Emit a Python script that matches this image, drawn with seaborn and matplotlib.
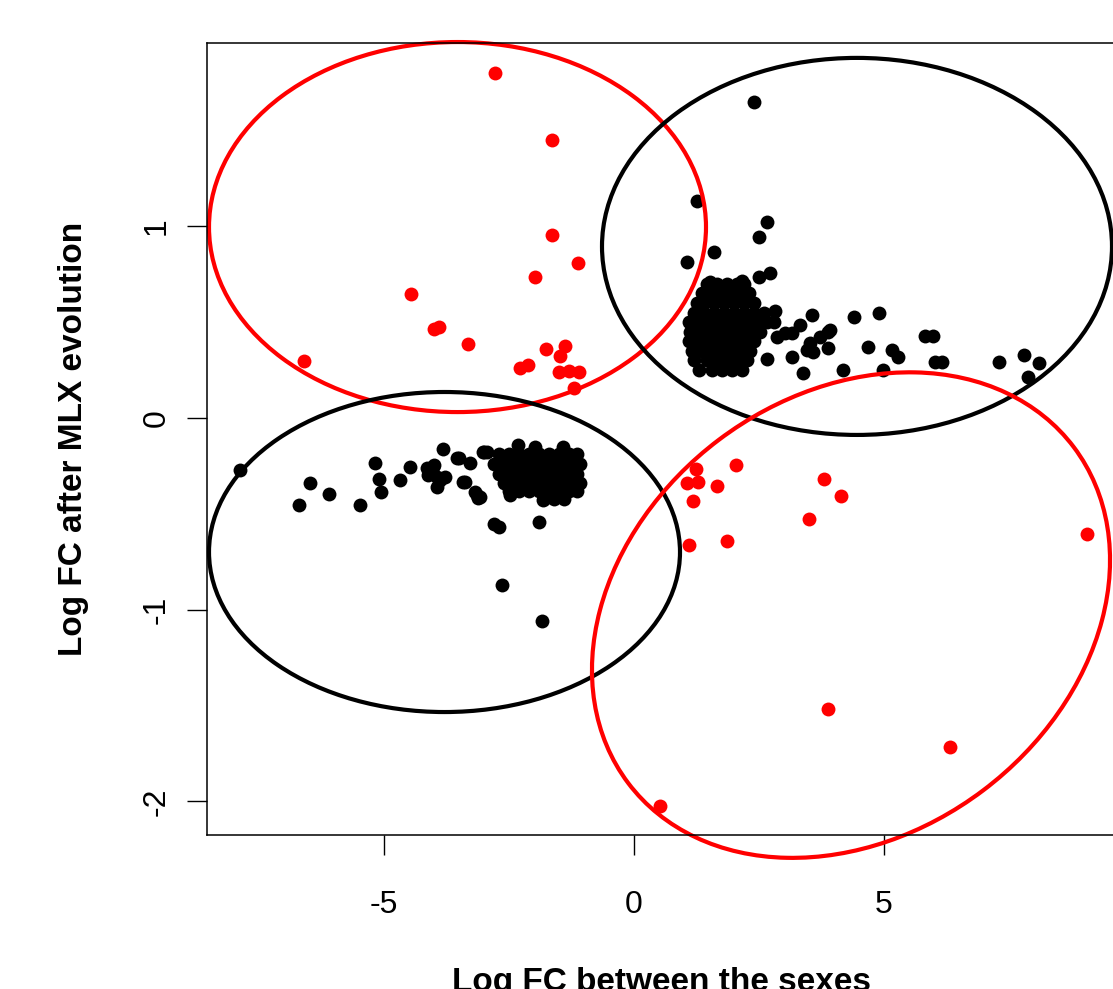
import numpy as np
import pandas as pd
import matplotlib.pyplot as plt
import seaborn as sns
from matplotlib.patches import Ellipse
from matplotlib.transforms import Affine2D

# red genes: sex-biased genes that reversed after MLX evolution
red_x = [-2.78, -1.64, -1.64, -1.12, -1.98, -4.46, -4.00, -3.90, -3.32, -6.60,
         -1.76, -1.38, -1.48, -2.28, -2.12, -1.50, -1.30, -1.10, -1.20,
         1.24, 1.06, 1.28, 2.04, 1.66, 1.18, 3.80, 4.14, 3.50, 1.10, 1.86,
         9.06, 3.88, 6.32, 0.52]
red_y = [1.800, 1.450, 0.955, 0.810, 0.735, 0.647, 0.464, 0.475, 0.386, 0.297,
         0.360, 0.375, 0.323, 0.260, 0.276, 0.240, 0.245, 0.240, 0.156,
         -0.266, -0.340, -0.334, -0.245, -0.355, -0.433, -0.318, -0.407, -0.527, -0.662, -0.642,
         -0.605, -1.518, -1.716, -2.024]

# black genes, male-biased cluster (upper right)
male_x = [2.40, 1.26, 2.66, 2.50, 1.60, 1.06, 2.50, 2.72, 2.16, 1.52, 2.82, 3.56, 3.32, 3.16,
          3.88, 3.72, 3.52, 3.88, 3.58, 3.16, 2.66, 3.38, 4.40, 4.90, 4.68, 5.16, 5.28,
          4.18, 4.98, 5.82, 5.98, 6.02, 6.16, 7.30, 7.80, 8.10, 7.88, 3.92, 3.46, 3.02, 2.86,
          1.45, 1.65, 1.85, 2.05, 2.20,
          1.35, 1.55, 1.75, 1.95, 2.15, 2.30,
          1.25, 1.40, 1.60, 1.80, 2.00, 2.20, 2.40,
          1.20, 1.40, 1.60, 1.80, 2.00, 2.20, 2.40, 2.60,
          1.10, 1.25, 1.45, 1.65, 1.85, 2.05, 2.25, 2.45, 2.65, 2.80,
          1.12, 1.32, 1.52, 1.72, 1.92, 2.12, 2.32, 2.52,
          1.10, 1.22, 1.42, 1.62, 1.82, 2.02, 2.22, 2.40,
          1.15, 1.35, 1.55, 1.75, 1.95, 2.15, 2.32,
          1.20, 1.45, 1.65, 1.85, 2.05, 2.25,
          1.30, 1.55, 1.75, 1.95, 2.15]
male_y = [1.648, 1.132, 1.022, 0.944, 0.866, 0.814, 0.735, 0.756, 0.715, 0.710, 0.558, 0.537, 0.485, 0.443,
          0.449, 0.423, 0.390, 0.365, 0.344, 0.318, 0.308, 0.235, 0.527, 0.548, 0.370, 0.355, 0.318,
          0.250, 0.250, 0.428, 0.428, 0.292, 0.292, 0.292, 0.329, 0.287, 0.214, 0.459, 0.355, 0.443, 0.423,
          0.70, 0.70, 0.70, 0.70, 0.70,
          0.65, 0.65, 0.65, 0.65, 0.65, 0.65,
          0.60, 0.60, 0.60, 0.60, 0.60, 0.60, 0.60,
          0.55, 0.55, 0.55, 0.55, 0.55, 0.55, 0.55, 0.55,
          0.50, 0.50, 0.50, 0.50, 0.50, 0.50, 0.50, 0.50, 0.50, 0.50,
          0.45, 0.45, 0.45, 0.45, 0.45, 0.45, 0.45, 0.45,
          0.40, 0.40, 0.40, 0.40, 0.40, 0.40, 0.40, 0.40,
          0.35, 0.35, 0.35, 0.35, 0.35, 0.35, 0.35,
          0.30, 0.30, 0.30, 0.30, 0.30, 0.30,
          0.25, 0.25, 0.25, 0.25, 0.25]

# black genes, female-biased cluster (lower left)
female_x = [-7.88, -6.48, -6.70, -6.10, -5.48, -5.18, -5.10, -5.06, -4.68, -4.48,
            -4.14, -4.00, -3.94, -3.78, -3.94, -3.82, -3.50, -3.28, -3.38, -3.14, -3.00,
            -4.02, -4.12, -3.88, -3.54, -3.42, -3.18, -3.12, -3.02,
            -2.80, -2.70, -1.90, -2.64, -1.84,
            -2.32, -1.98, -1.42, -2.94, -1.82, -2.48, -3.08,
            -2.70, -2.50, -2.30, -2.10, -1.90, -1.70, -1.50, -1.30, -1.15,
            -2.80, -2.60, -2.40, -2.20, -2.00, -1.80, -1.60, -1.40, -1.20, -1.08,
            -2.70, -2.50, -2.30, -2.10, -1.90, -1.70, -1.50, -1.30, -1.15,
            -2.60, -2.40, -2.20, -2.00, -1.80, -1.60, -1.40, -1.20, -1.08,
            -2.50, -2.30, -2.10, -1.90, -1.70, -1.50, -1.30, -1.15,
            -1.80, -1.60, -1.40]
female_y = [-0.271, -0.340, -0.454, -0.397, -0.454, -0.235, -0.318, -0.386, -0.323, -0.256,
            -0.260, -0.245, -0.308, -0.308, -0.360, -0.162, -0.209, -0.235, -0.334, -0.400, -0.177,
            -0.256, -0.297, -0.323, -0.209, -0.334, -0.386, -0.417, -0.177,
            -0.553, -0.570, -0.542, -0.871, -1.059,
            -0.141, -0.151, -0.151, -0.177, -0.428, -0.400, -0.410,
            -0.19, -0.19, -0.19, -0.19, -0.19, -0.19, -0.19, -0.19, -0.19,
            -0.24, -0.24, -0.24, -0.24, -0.24, -0.24, -0.24, -0.24, -0.24, -0.24,
            -0.29, -0.29, -0.29, -0.29, -0.29, -0.29, -0.29, -0.29, -0.29,
            -0.34, -0.34, -0.34, -0.34, -0.34, -0.34, -0.34, -0.34, -0.34,
            -0.38, -0.38, -0.38, -0.38, -0.38, -0.38, -0.38, -0.38,
            -0.42, -0.42, -0.42]

x_ticks = [-5, 0, 5]
y_ticks = [-2, -1, 0, 1]

black = pd.DataFrame({"x": male_x + female_x, "y": male_y + female_y})
red = pd.DataFrame({"x": red_x, "y": red_y})

sns.set_style("white")
plt.rcParams['font.family'] = ['Liberation Sans', 'DejaVu Sans']
plt.rcParams['axes.unicode_minus'] = False

fig = plt.figure(figsize=(11.13, 9.89), dpi=100)
ax = fig.add_axes([207/1113, 1 - 835/989, 910/1113, 792/989])

sns.scatterplot(data=black, x="x", y="y", color="black", s=100, linewidth=0, ax=ax)
sns.scatterplot(data=red, x="x", y="y", color="red", s=100, linewidth=0, ax=ax)

ax.set_xlim(-8.54, 9.66)
ax.set_ylim(-2.175, 1.956)

# hand drawn circles around the groups (sizes in screen pixels)
XS, YS = 50.0, 191.7
px = Affine2D().scale(1/XS, 1/YS) + ax.transData
for cx, cy, w, h, ang, col in [(-3.53, 0.996, 497, 370, 0, "red"),
                               (4.46, 0.895, 510, 377, 0, "black"),
                               (-3.79, -0.699, 471, 320, 0, "black"),
                               (4.34, -1.028, 558, 439, 37, "red")]:
    ax.add_patch(Ellipse((cx*XS, cy*YS), w, h, angle=ang, fill=False,
                         edgecolor=col, linewidth=3, transform=px, clip_on=False))

ax.set_xticks(x_ticks)
ax.set_yticks(y_ticks)
ax.set_xlabel("")
ax.set_ylabel("")
ax.tick_params(axis="both", direction="out", length=14.4, width=1, labelsize=23,
               bottom=True, left=True, color="black", labelcolor="black")
ax.tick_params(axis="x", pad=25)
ax.tick_params(axis="y", pad=11)
for lab in ax.get_yticklabels():
    lab.set_rotation(90)
    lab.set_va("center")
for sp in ax.spines.values():
    sp.set_color("black")
    sp.set_linewidth(1.1)

fig.text(662/1113, 1 - 991/989, "Log FC between the sexes", ha="center", va="baseline",
         fontsize=24, fontweight="bold", color="black")
fig.text(74/1113, 1 - 439/989, "Log FC after MLX evolution", ha="center", va="center",
         rotation=90, fontsize=24, fontweight="bold", color="black")

plt.savefig("out.png", dpi=100)
